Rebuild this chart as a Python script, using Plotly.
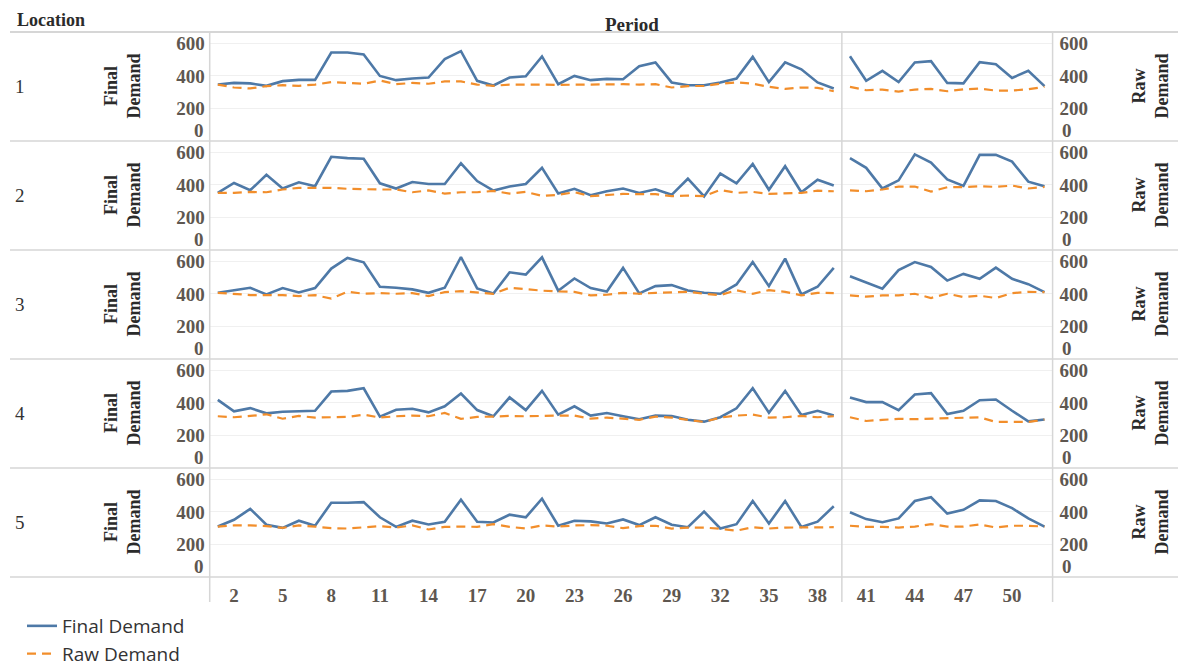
import plotly.graph_objects as go

# ---- data -------------------------------------------------------------
periods = list(range(1, 53))
break_after = 39  # the series are drawn in two panes: periods 1-39 and 40-52
locations = ["1", "2", "3", "4", "5"]
x_tick_labels = [2, 5, 8, 11, 14, 17, 20, 23, 26, 29, 32, 35, 38, 41, 44, 47, 50]
y_tick_labels = [200, 400, 600]

final_1 = [347, 357, 354, 339, 368, 376, 376, 544, 544, 532, 400, 374, 384, 390, 503, 552, 370, 341, 390, 398,
           520, 349, 400, 374, 382, 380, 460, 483, 360, 343, 343, 360, 384, 517, 362, 483, 441, 360, 323,
           521, 370, 431, 362, 483, 491, 357, 354, 485, 472, 388, 431, 337]
raw_1 = [347, 329, 323, 337, 343, 339, 347, 362, 357, 352, 372, 349, 357, 352, 366, 366, 347, 339, 347, 349,
         347, 345, 347, 345, 347, 349, 347, 349, 329, 337, 339, 352, 360, 352, 333, 320, 329, 327, 306,
         333, 312, 316, 304, 316, 320, 306, 318, 322, 310, 310, 318, 333]

final_2 = [351, 412, 367, 462, 378, 416, 392, 573, 565, 561, 410, 378, 418, 406, 406, 533, 424, 365, 390, 406,
           505, 347, 376, 337, 361, 378, 351, 373, 339, 438, 329, 470, 410, 529, 370, 515, 355, 432, 396,
           565, 505, 378, 428, 588, 537, 434, 394, 585, 585, 543, 420, 392]
raw_2 = [351, 351, 357, 355, 372, 382, 382, 382, 376, 372, 372, 372, 355, 366, 347, 355, 355, 363, 347, 357,
         333, 339, 355, 331, 339, 345, 343, 343, 331, 335, 331, 369, 351, 357, 345, 347, 351, 365, 361,
         367, 361, 372, 390, 390, 359, 386, 386, 392, 388, 396, 378, 388]

final_3 = [407, 423, 438, 397, 436, 409, 436, 556, 621, 594, 444, 438, 428, 407, 438, 627, 434, 403, 533, 519,
           625, 420, 495, 436, 415, 560, 403, 448, 454, 421, 407, 401, 458, 596, 448, 617, 397, 444, 560,
           509, 468, 432, 546, 596, 566, 482, 523, 493, 562, 493, 460, 411]
raw_3 = [407, 401, 393, 393, 393, 387, 393, 371, 414, 401, 405, 401, 405, 387, 411, 417, 407, 401, 438, 428,
         420, 415, 413, 391, 395, 407, 401, 407, 409, 413, 401, 393, 423, 401, 423, 413, 391, 407, 405,
         391, 383, 391, 391, 401, 375, 401, 381, 389, 375, 405, 413, 411]

final_4 = [419, 348, 368, 336, 346, 350, 352, 470, 474, 490, 316, 358, 364, 342, 379, 458, 356, 318, 434, 356,
           474, 328, 379, 322, 338, 318, 300, 322, 320, 296, 285, 312, 367, 490, 340, 474, 326, 352, 322,
           434, 405, 405, 356, 452, 460, 332, 352, 417, 421, 352, 287, 298]
raw_4 = [318, 312, 320, 330, 303, 320, 310, 312, 314, 328, 310, 318, 322, 318, 338, 302, 314, 316, 320, 318,
         322, 322, 322, 303, 310, 302, 296, 316, 310, 296, 283, 310, 322, 328, 310, 312, 320, 312, 318,
         312, 289, 296, 302, 300, 303, 308, 310, 312, 283, 285, 283, 298]

final_5 = [310, 352, 419, 321, 302, 346, 315, 456, 456, 460, 367, 308, 346, 323, 340, 475, 340, 335, 383, 367,
           481, 315, 346, 342, 329, 354, 319, 367, 321, 306, 402, 298, 325, 467, 329, 467, 308, 340, 435,
           398, 356, 337, 360, 467, 490, 390, 413, 471, 467, 423, 360, 310]
raw_5 = [310, 317, 317, 313, 302, 317, 310, 300, 298, 304, 313, 304, 317, 292, 308, 310, 308, 325, 308, 298,
         317, 310, 317, 319, 315, 300, 313, 315, 298, 304, 304, 296, 285, 306, 298, 304, 304, 304, 306,
         315, 308, 308, 304, 310, 325, 310, 310, 323, 304, 315, 315, 310]

final_series = [final_1, final_2, final_3, final_4, final_5]
raw_series = [raw_1, raw_2, raw_3, raw_4, raw_5]

# ---- styling / geometry ------------------------------------------------
W, H = 1178, 667
BLUE = "#4e79a7"
ORANGE = "#f28e2b"
RULE = "#d6d6d6"
GRID = "#f0f0f0"
TICK_COLOR = "#5e5750"
SERIF = "Liberation Serif, Times New Roman, serif"
SANS = "Open Sans, Noto Sans, sans-serif"

X_LEFT, X_RIGHT = 209.7, 1052.6
TOP, ROW_H = 32, 109
Y_MAX = 670


def px(v):
    return v / W


def py(v):
    return 1 - v / H


def split(values):
    """Insert a gap so the line breaks between the two period panes."""
    xs = periods[:break_after] + [break_after + 0.5] + periods[break_after:]
    ys = list(values[:break_after]) + [None] + list(values[break_after:])
    return xs, ys


fig = go.Figure()
tick_font = dict(family=SERIF, size=19, color=TICK_COLOR, weight="bold")
title_font = dict(family=SERIF, size=18, color="#2b2b2b", weight="bold")
layout = {}
annotations = []
shapes = []

for r in range(5):
    n = r + 1
    xname = "x" if n == 1 else f"x{n}"
    yl = "y" if n == 1 else f"y{n}"
    yr = f"y{n + 5}"
    top = TOP + ROW_H * r
    bot = top + ROW_H

    xs, yf = split(final_series[r])
    _, yraw = split(raw_series[r])
    fig.add_trace(go.Scatter(x=xs, y=yf, mode="lines", name="Final Demand",
                             line=dict(color=BLUE, width=2.6), xaxis=xname, yaxis=yl,
                             legendgroup="final", showlegend=(r == 0), legendrank=1))
    fig.add_trace(go.Scatter(x=xs, y=yraw, mode="lines", name="Raw Demand",
                             line=dict(color=ORANGE, width=2.2, dash="9px,6px"), xaxis=xname, yaxis=yr,
                             legendgroup="raw", showlegend=(r == 0), legendrank=2))

    xkey = "xaxis" if n == 1 else f"xaxis{n}"
    layout[xkey] = dict(
        domain=[px(X_LEFT), px(X_RIGHT)], range=[0.5, 52.5], anchor=yl,
        showgrid=False, zeroline=False, showline=False, ticks="",
        tickvals=x_tick_labels, showticklabels=(r == 4), tickfont=tick_font,
        ticklabelstandoff=5,
    )
    if n > 1:
        layout[xkey]["matches"] = "x"

    ykey = "yaxis" if n == 1 else f"yaxis{n}"
    layout[ykey] = dict(
        domain=[py(bot), py(top)], range=[0, Y_MAX], anchor=xname,
        tickvals=y_tick_labels, showgrid=True, gridcolor=GRID, gridwidth=1,
        zeroline=False, showline=False, ticks="", tickfont=tick_font,
        ticklabelstandoff=4,
    )
    layout[f"yaxis{n + 5}"] = dict(
        overlaying=yl, side="right", range=[0, Y_MAX], anchor=xname,
        tickvals=y_tick_labels, showgrid=False, zeroline=False, showline=False,
        ticks="", tickfont=tick_font, ticklabelstandoff=6,
    )

    # bottom "0" labels sit slightly above the pane floor
    annotations.append(dict(x=px(X_LEFT - 4), y=py(bot - 11), xref="paper", yref="paper",
                            text="0", showarrow=False, xanchor="right", yanchor="middle",
                            font=tick_font))
    annotations.append(dict(x=px(X_RIGHT + 7), y=py(bot - 11), xref="paper", yref="paper",
                            text="0", showarrow=False, xanchor="left", yanchor="middle",
                            font=tick_font))

    mid = (top + bot) / 2
    annotations.append(dict(x=px(20), y=py(mid), xref="paper", yref="paper", text=locations[r],
                            showarrow=False, xanchor="center", yanchor="middle",
                            font=dict(family=SERIF, size=19, color="#333333")))
    annotations.append(dict(x=px(122), y=py(mid), xref="paper", yref="paper",
                            text="Final<br>Demand", textangle=-90, showarrow=False,
                            xanchor="center", yanchor="middle", font=title_font))
    annotations.append(dict(x=px(1150), y=py(mid), xref="paper", yref="paper",
                            text="Raw<br>Demand", textangle=-90, showarrow=False,
                            xanchor="center", yanchor="middle", font=title_font))

    # row separator
    shapes.append(dict(type="line", xref="paper", yref="paper", x0=px(10), x1=1,
                       y0=py(bot), y1=py(bot), line=dict(color=RULE, width=1.5)))

# header rule and headers
shapes.append(dict(type="line", xref="paper", yref="paper", x0=px(10), x1=1,
                   y0=py(TOP), y1=py(TOP), line=dict(color=RULE, width=2)))
annotations.append(dict(x=px(15), y=py(20), xref="paper", yref="paper", text="Location",
                        showarrow=False, xanchor="left", yanchor="middle",
                        font=dict(family=SERIF, size=18, color="#2b2b2b", weight="bold")))
annotations.append(dict(x=px(632), y=py(24), xref="paper", yref="paper", text="Period",
                        showarrow=False, xanchor="center", yanchor="middle",
                        font=dict(family=SERIF, size=19, color="#2b2b2b", weight="bold")))

# vertical rules: left edge, pane divider, right edge
for xv, ref in [(px(X_LEFT), "paper"), (break_after + 0.5, "x"), (px(X_RIGHT), "paper")]:
    shapes.append(dict(type="line", xref=ref, yref="paper", x0=xv, x1=xv,
                       y0=py(602), y1=py(TOP), line=dict(color=RULE, width=1.5)))

fig.update_layout(
    width=W, height=H,
    margin=dict(l=0, r=0, t=0, b=0, autoexpand=False),
    paper_bgcolor="white", plot_bgcolor="white",
    annotations=annotations, shapes=shapes,
    legend=dict(x=px(22), y=py(607), xanchor="left", yanchor="top",
                font=dict(family=SANS, size=19, color="#333333"),
                bgcolor="rgba(0,0,0,0)", tracegroupgap=0, itemwidth=30),
    showlegend=True,
    **layout,
)

fig.write_html("out.html")
